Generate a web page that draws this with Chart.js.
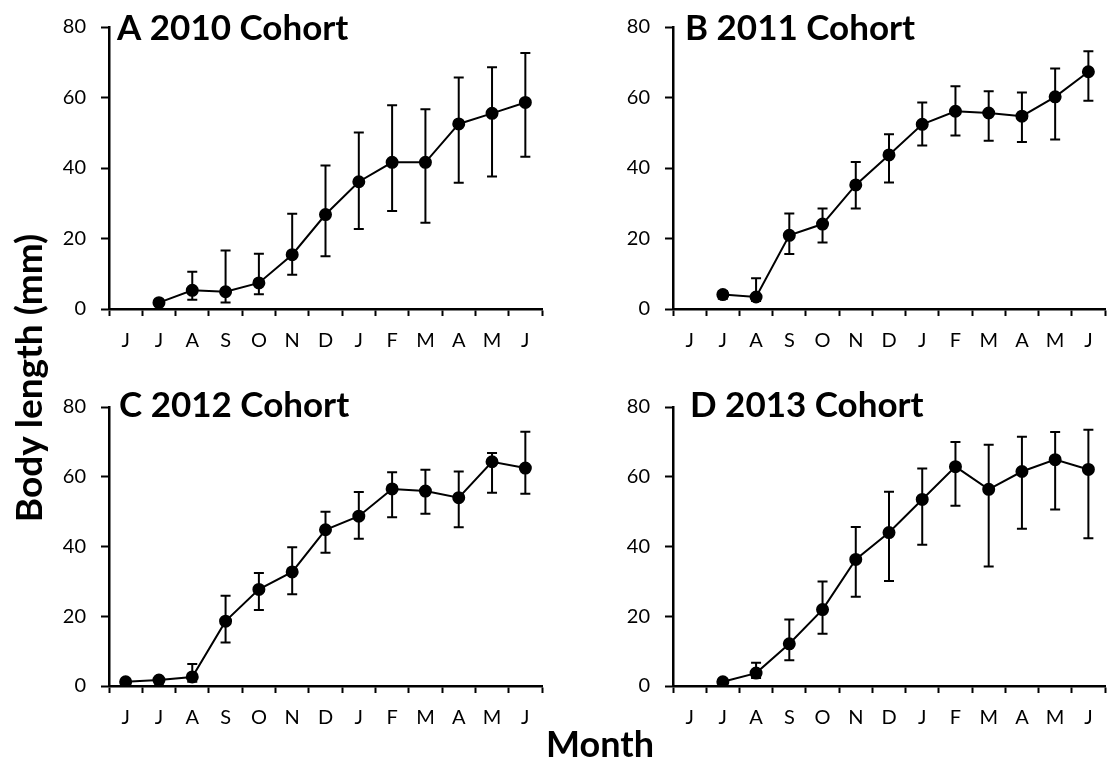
<!DOCTYPE html>
<html>
<head>
<meta charset="utf-8">
<script src="https://cdn.jsdelivr.net/npm/chart.js@4.4.1/dist/chart.umd.min.js"></script>
<style>
  html, body { margin: 0; padding: 0; background: #fff; }
  body { width: 1113px; height: 767px; position: relative; overflow: hidden; }
  canvas { position: absolute; }
  .axt { position: absolute; font-family: Lato, "Open Sans", sans-serif; font-weight: bold;
         font-size: 36px; line-height: 36px; color: #000; text-align: center; white-space: nowrap; }
</style>
</head>
<body>
<canvas id="cA" width="555" height="380" style="left:0;top:0"></canvas>
<canvas id="cB" width="558" height="380" style="left:555px;top:0"></canvas>
<canvas id="cC" width="555" height="387" style="left:0;top:380px"></canvas>
<canvas id="cD" width="558" height="387" style="left:555px;top:380px"></canvas>
<div class="axt" id="ytitle" style="left:-172px;top:360px;width:400px;height:36px;font-size:37px;transform:rotate(-90deg);">Body length (mm)</div>
<div class="axt" id="xtitle" style="left:500px;top:725px;width:200px;height:36px;">Month</div>
<script>
// ---- data ----
const months = ['J','J','A','S','O','N','D','J','F','M','A','M','J'];
const yTickValues = [0, 20, 40, 60, 80];
const panelTitles = ['A 2010 Cohort', 'B 2011 Cohort', 'C 2012 Cohort', 'D 2013 Cohort'];

const meanA  = [null, 1.8, 5.3, 4.9, 7.4, 15.4, 26.8, 36.1, 41.6, 41.6, 52.5, 55.5, 58.6];
const upperA = [null, null, 10.6, 16.6, 15.7, 27.0, 40.7, 50.1, 57.8, 56.7, 65.7, 68.6, 72.6];
const lowerA = [null, null, 2.6, 1.85, 4.2, 9.7, 15.0, 22.7, 27.8, 24.5, 35.8, 37.6, 43.2];

const meanB  = [null, 4.1, 3.4, 20.9, 24.1, 35.2, 43.7, 52.4, 56.1, 55.6, 54.7, 60.2, 67.3];
const upperB = [null, 5.1, 8.7, 27.1, 28.5, 41.7, 49.6, 58.6, 63.2, 61.8, 61.4, 68.2, 73.1];
const lowerB = [null, 2.9, 2.3, 15.6, 18.9, 28.5, 35.9, 46.4, 49.2, 47.7, 47.4, 48.1, 59.1];

const meanC  = [1.2, 1.7, 2.6, 18.6, 27.7, 32.7, 44.8, 48.7, 56.5, 55.9, 54.0, 64.3, 62.5];
const upperC = [null, 2.6, 6.3, 25.9, 32.4, 39.8, 50.0, 55.6, 61.3, 62.0, 61.5, 66.8, 72.9];
const lowerC = [null, 0.7, 1.2, 12.5, 21.8, 26.3, 38.2, 42.2, 48.4, 49.4, 45.5, 55.4, 55.1];

const meanD  = [null, 1.2, 3.7, 12.1, 21.9, 36.3, 44.0, 53.5, 62.9, 56.4, 61.5, 64.9, 62.1];
const upperD = [null, null, 6.7, 19.1, 30.0, 45.6, 55.7, 62.4, 70.0, 69.2, 71.5, 72.8, 73.5];
const lowerD = [null, null, 2.3, 7.4, 15.0, 25.6, 30.1, 40.5, 51.7, 34.3, 45.1, 50.6, 42.4];

// ---- layout (pixels, per panel) ----
const layouts = [
  { id: 'cA', yWidth: 109, xHeight: 71, padTop: 20, padRight: 13, titleDx: 8,  titleBase: 40 },
  { id: 'cB', yWidth: 118, xHeight: 71, padTop: 20, padRight: 8,  titleDx: 12, titleBase: 40 },
  { id: 'cC', yWidth: 109, xHeight: 81, padTop: 17, padRight: 13, titleDx: 10, titleBase: 37 },
  { id: 'cD', yWidth: 118, xHeight: 81, padTop: 17, padRight: 8,  titleDx: 17, titleBase: 37 }
];
const series = [
  [meanA, upperA, lowerA],
  [meanB, upperB, lowerB],
  [meanC, upperC, lowerC],
  [meanD, upperD, lowerD]
];

const FONT = 'Lato, "Open Sans", sans-serif';

const errorBars = {
  id: 'errorBars',
  beforeDatasetsDraw(chart, args, opts) {
    const { ctx } = chart;
    const x = chart.scales.x, y = chart.scales.y;
    const cap = 5;
    ctx.save();
    ctx.strokeStyle = '#000';
    ctx.lineWidth = 2;
    opts.upper.forEach((u, i) => {
      const l = opts.lower[i];
      if (u == null || l == null) return;
      const px = x.getPixelForValue(i);
      const pu = y.getPixelForValue(u);
      const pl = y.getPixelForValue(l);
      ctx.beginPath();
      ctx.moveTo(px, pu); ctx.lineTo(px, pl);
      ctx.moveTo(px - cap, pu); ctx.lineTo(px + cap, pu);
      ctx.moveTo(px - cap, pl); ctx.lineTo(px + cap, pl);
      ctx.stroke();
    });
    ctx.restore();
  }
};

const panelTitle = {
  id: 'panelTitle',
  afterDraw(chart, args, opts) {
    const { ctx, chartArea } = chart;
    ctx.save();
    ctx.fillStyle = '#000';
    ctx.font = 'bold 35px ' + FONT;
    ctx.textBaseline = 'alphabetic';
    ctx.textAlign = 'left';
    ctx.fillText(opts.text, chartArea.left + opts.dx, opts.baseline);
    ctx.restore();
  }
};

layouts.forEach((L, k) => {
  const [mean, upper, lower] = series[k];
  new Chart(document.getElementById(L.id), {
    type: 'line',
    data: {
      labels: months,
      datasets: [{
        data: mean,
        borderColor: '#000',
        backgroundColor: '#000',
        borderWidth: 2,
        pointRadius: 5.5,
        pointHoverRadius: 5.5,
        pointBackgroundColor: '#000',
        pointBorderColor: '#000',
        tension: 0,
        spanGaps: false
      }]
    },
    options: {
      responsive: false,
      animation: false,
      events: [],
      layout: { padding: { top: L.padTop, right: L.padRight, left: 0, bottom: 0 } },
      plugins: {
        legend: { display: false },
        tooltip: { enabled: false },
        errorBars: { upper, lower },
        panelTitle: { text: panelTitles[k], dx: L.titleDx, baseline: L.titleBase }
      },
      scales: {
        x: {
          type: 'category',
          offset: true,
          grid: { display: true, offset: true, drawOnChartArea: false, drawTicks: true,
                  tickLength: 7, tickWidth: 2, tickColor: '#000' },
          border: { display: true, color: '#000', width: 2.5 },
          ticks: { color: '#000', font: { family: FONT, size: 20 }, padding: 13,
                   maxRotation: 0, autoSkip: false },
          afterFit(scale) { scale.height = L.xHeight; }
        },
        y: {
          min: yTickValues[0],
          max: yTickValues[yTickValues.length - 1],
          afterBuildTicks(scale) { scale.ticks = yTickValues.map(v => ({ value: v })); },
          grid: { display: true, drawOnChartArea: false, drawTicks: true,
                  tickLength: 8, tickWidth: 2, tickColor: '#000' },
          border: { display: true, color: '#000', width: 2.5 },
          ticks: { color: '#000', font: { family: FONT, size: 20 }, padding: 15 },
          afterFit(scale) { scale.width = L.yWidth; }
        }
      }
    },
    plugins: [errorBars, panelTitle]
  });
});
</script>
</body>
</html>
